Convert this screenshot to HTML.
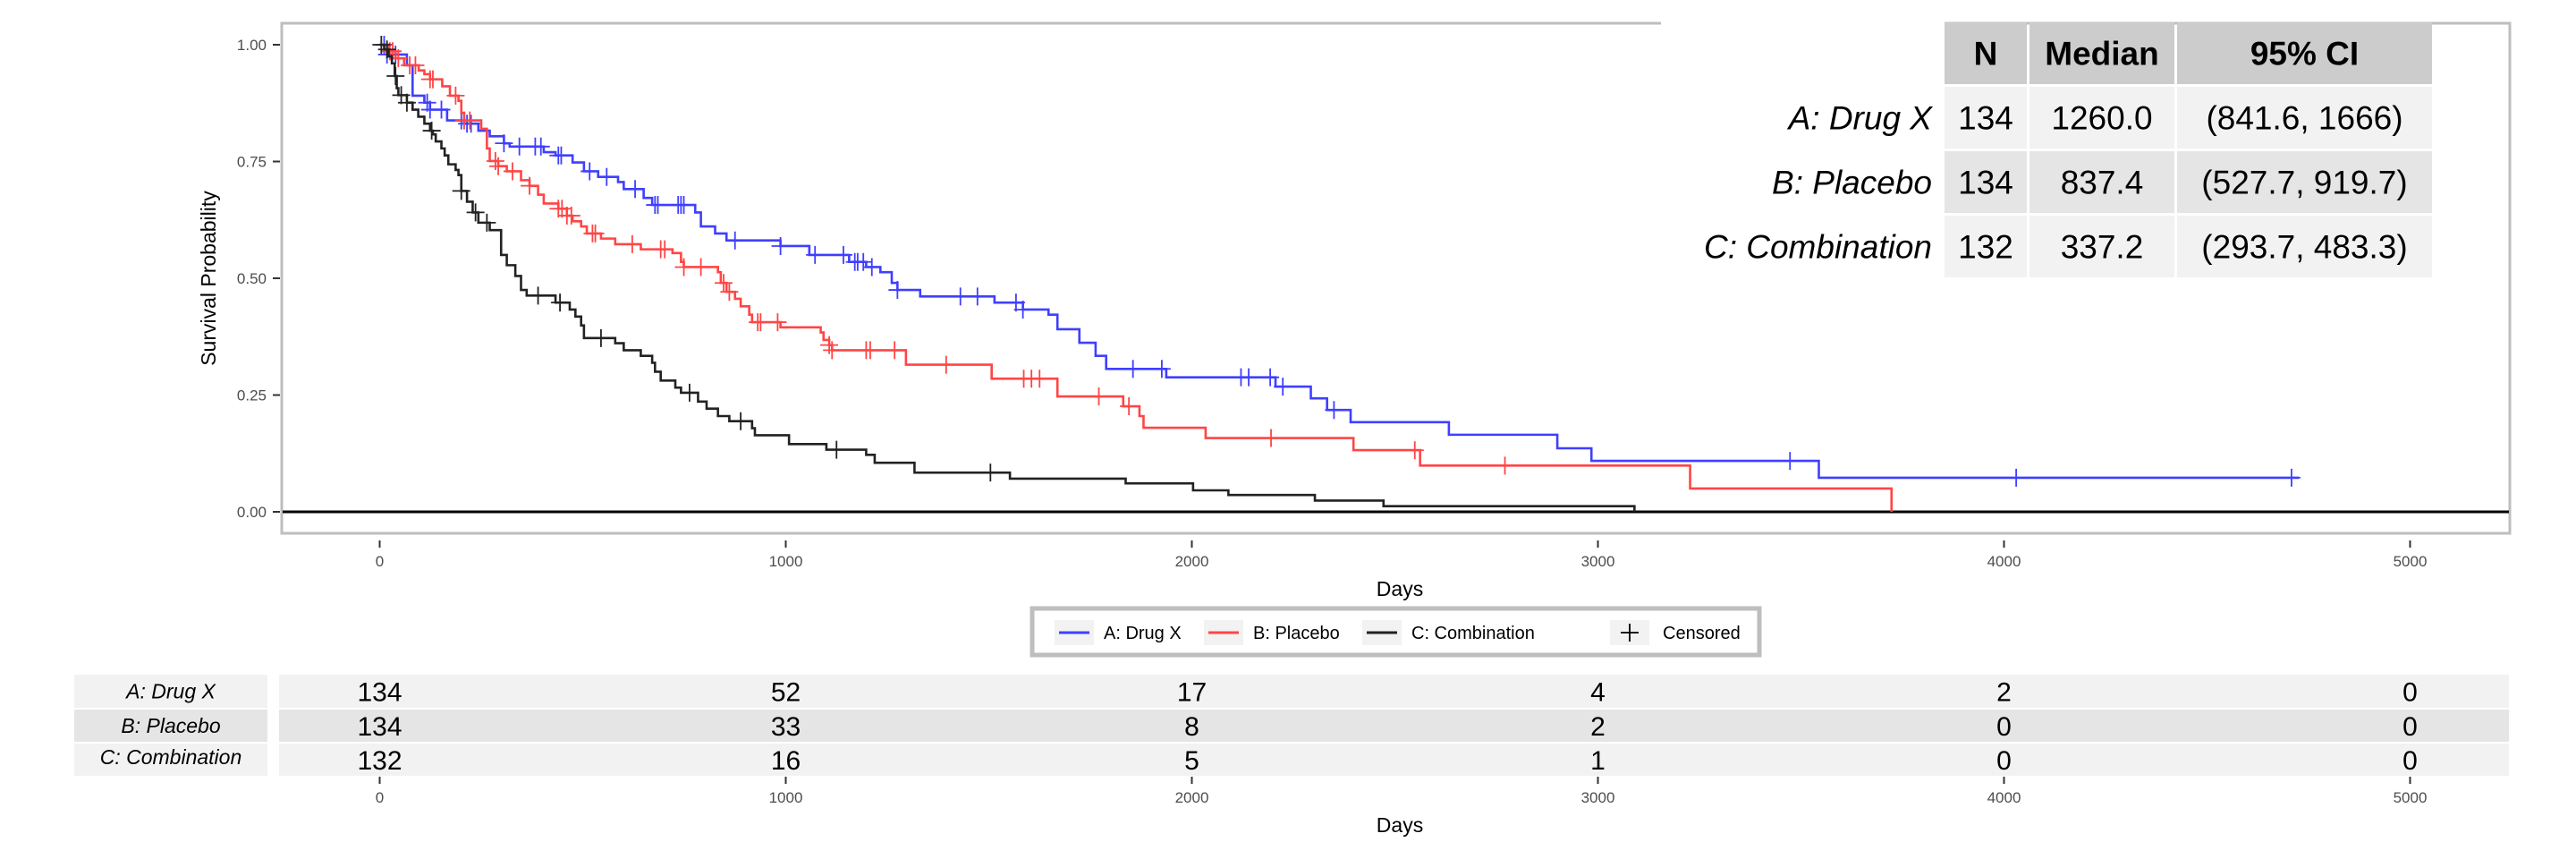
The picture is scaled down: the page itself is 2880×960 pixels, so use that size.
<!DOCTYPE html>
<html><head><meta charset="utf-8"><style>
html,body{margin:0;padding:0;background:#fff}
svg{display:block;font-family:"Liberation Sans",sans-serif}
</style></head><body>
<svg id="chart" width="2880" height="960" viewBox="0 0 2880 960" xmlns="http://www.w3.org/2000/svg">
<rect x="0" y="0" width="2880" height="960" fill="#fff"/>
<g id="panel">
<rect x="315" y="26" width="2491" height="570" fill="#fff" stroke="#bebebe" stroke-width="3"/>
</g>
<g id="yaxis"></g>
<g id="xaxis"></g>
<g id="curves"></g>
<text x="241" y="311" font-size="23" text-anchor="middle" transform="rotate(-90 241 311)">Survival Probability</text>
<text x="1565" y="666" font-size="23" text-anchor="middle">Days</text>
<g id="legend">
<rect x="1154" y="680" width="813" height="52" fill="#fff" stroke="#bebebe" stroke-width="5"/>
</g>
<g id="stats"></g>
<g id="risk"></g>
<text x="1565" y="930" font-size="23" text-anchor="middle">Days</text>
</svg>
<script>
const NS="http://www.w3.org/2000/svg";
// ---- data ----
const groups=["A: Drug X","B: Placebo","C: Combination"];
const colors=["#3f3fff","#ff4545","#222222"];
const xTicks=[0,1000,2000,3000,4000,5000];
const yTicks=[0,0.25,0.5,0.75,1];
const yTickLabels=["0.00","0.25","0.50","0.75","1.00"];
const timesA=[0,18,67,81,110,124,166,208,243,271,306,320,404,433,475,503,538,587,601,650,671,777,791,826,854,987,1058,1156,1198,1233,1261,1275,1331,1514,1584,1647,1669,1723,1763,1789,1937,2206,2293,2333,2391,2633,2900,2984,3544,4726];
const survA=[1,0.979,0.956,0.891,0.876,0.861,0.838,0.831,0.816,0.804,0.789,0.782,0.770,0.763,0.748,0.729,0.717,0.706,0.691,0.672,0.657,0.641,0.611,0.596,0.581,0.569,0.550,0.535,0.524,0.513,0.490,0.475,0.461,0.448,0.433,0.422,0.391,0.362,0.334,0.306,0.288,0.268,0.243,0.218,0.192,0.165,0.136,0.109,0.073,0.073];
const censA=[11,18,39,117,124,152,201,215,225,306,344,383,397,440,447,517,559,629,678,685,735,742,749,875,987,1072,1142,1170,1177,1191,1212,1275,1430,1472,1567,1584,1855,1926,2121,2140,2193,2224,2350,3473,4030,4708];
const timesB=[0,22,39,60,96,110,124,154,173,194,201,208,250,264,271,292,313,348,369,390,404,440,461,475,496,510,545,580,643,721,742,749,833,840,854,875,889,910,917,987,1086,1093,1107,1114,1296,1507,1669,1831,1871,1881,2034,2398,2562,3227,3723];
const survB=[1,0.986,0.971,0.956,0.945,0.937,0.926,0.911,0.891,0.880,0.854,0.838,0.820,0.778,0.751,0.740,0.729,0.710,0.698,0.679,0.660,0.649,0.634,0.622,0.611,0.596,0.585,0.573,0.562,0.554,0.535,0.524,0.513,0.490,0.471,0.456,0.440,0.422,0.406,0.395,0.384,0.368,0.357,0.346,0.315,0.285,0.247,0.226,0.205,0.180,0.158,0.132,0.099,0.050,0];
const censB=[25,32,46,74,88,124,131,187,208,222,285,292,327,369,440,449,461,472,524,531,622,692,702,749,791,847,861,931,938,980,1107,1114,1198,1208,1268,1395,1586,1605,1625,1771,1845,2195,2549,2771];
const timesC=[0,11,22,30,37,42,46,67,81,95,110,124,131,138,152,160,169,187,194,201,215,229,243,271,299,313,334,348,362,433,468,482,496,503,580,601,643,671,678,692,728,742,784,805,833,861,917,924,1008,1100,1198,1219,1317,1552,1837,2003,2090,2303,2472,3090];
const survC=[1,0.99,0.975,0.960,0.933,0.907,0.892,0.876,0.861,0.846,0.831,0.816,0.808,0.793,0.778,0.763,0.744,0.732,0.721,0.687,0.664,0.641,0.619,0.603,0.550,0.528,0.505,0.475,0.463,0.448,0.433,0.418,0.399,0.372,0.361,0.346,0.334,0.319,0.300,0.281,0.266,0.255,0.236,0.221,0.205,0.194,0.179,0.164,0.145,0.133,0.122,0.105,0.084,0.071,0.061,0.046,0.036,0.024,0.012,0];
const censC=[4,18,39,53,67,128,201,236,264,390,444,545,763,889,1125,1504];
const statN=["134","134","132"];
const statMedian=["1260.0","837.4","337.2"];
const statCI=["(841.6, 1666)","(527.7, 919.7)","(293.7, 483.3)"];
const riskCounts=[[134,52,17,4,2,0],[134,33,8,2,0,0],[132,16,5,1,0,0]];
const riskTimes=[0,1000,2000,3000,4000,5000];
// ---- scales ----
const X=d=>424.5+d*0.454;
const Y=s=>572-s*522;
function mk(tag,attrs,parent){const e=document.createElementNS(NS,tag);for(const k in attrs)e.setAttribute(k,attrs[k]);parent.appendChild(e);return e;}
const yax=document.getElementById('yaxis');
yTicks.forEach((t,i)=>{
  const l=mk('line',{x1:305,x2:313,y1:Y(t),y2:Y(t),stroke:'#333','stroke-width':2},yax);
  
  
  const tx=mk('text',{x:298,y:Y(t)+6,'font-size':17,'text-anchor':'end',fill:'#4d4d4d'},yax);
  tx.textContent=yTickLabels[i];
  
  
});
const xax=document.getElementById('xaxis');
xTicks.forEach(t=>{
  const l=mk('line',{x1:X(t),x2:X(t),y1:604,y2:612,stroke:'#333','stroke-width':2},xax);
  
  
  const tx=mk('text',{x:X(t),y:633,'font-size':17,'text-anchor':'middle',fill:'#4d4d4d'},xax);
  tx.textContent=t;
  
  
});
const cg=document.getElementById('curves');
const zl=mk('line',{x1:316,x2:2805,y1:Y(0),y2:Y(0),stroke:'#000','stroke-width':3},cg);


function survAt(ts,ss,t){let v=ss[0];for(let i=0;i<ts.length;i++){if(ts[i]<=t)v=ss[i];}return v;}
const series=[[timesA,survA,censA],[timesB,survB,censB],[timesC,survC,censC]];
series.forEach((s,gi)=>{
  const [ts,ss,cs]=s;
  let d='M'+X(ts[0])+','+Y(ss[0]);
  for(let i=1;i<ts.length;i++){d+=' H'+X(ts[i])+' V'+Y(ss[i]);}
  const p=mk('path',{d:d,fill:'none',stroke:colors[gi],'stroke-width':2.6},cg);
  
  
  cs.forEach(t=>{
    const x=X(t),y=Y(survAt(ts,ss,t));
    const c=mk('path',{d:`M${x-10},${y} H${x+10} M${x},${y-10} V${y+10}`,stroke:colors[gi],'stroke-width':1.8,fill:'none'},cg);
    
    
  });
});
// legend
const lg=document.getElementById('legend');
const legX=[1179,1346,1523];
groups.forEach((g,i)=>{
  mk('rect',{x:legX[i],y:693,width:44,height:28,fill:'#f2f2f2'},lg);
  const l=mk('line',{x1:legX[i]+5,x2:legX[i]+39,y1:707,y2:707,stroke:colors[i],'stroke-width':3},lg);
  
  
  const t=mk('text',{x:legX[i]+55,y:714,'font-size':20},lg);
  t.textContent=g;
  
  
});
mk('rect',{x:1800,y:693,width:44,height:28,fill:'#f2f2f2'},lg);
const ck=mk('path',{d:'M1812,707 H1832 M1822,697 V717',stroke:'#000','stroke-width':1.8},lg);


const ct=mk('text',{x:1859,y:714,'font-size':20},lg);
ct.textContent='Censored';


// stats table
const st=document.getElementById('stats');
mk('rect',{x:1857,y:18,width:317,height:295,fill:'#fff'},st);
const colX=[2174,2269,2434,2722];
const rowY=[[25,94],[97,166],[169,238],[241,310]];
const bg=['#cccccc','#f2f2f2','#e5e5e5','#f2f2f2'];
const heads=['N','Median','95% CI'];
for(let r=0;r<4;r++){for(let c=0;c<3;c++){
  mk('rect',{x:colX[c],y:rowY[r][0],width:colX[c+1]-colX[c]-3,height:rowY[r][1]-rowY[r][0],fill:bg[r]},st);
  const cx=(colX[c]+colX[c+1]-3)/2, cy=(rowY[r][0]+rowY[r][1])/2+13;
  const t=mk('text',{x:cx,y:cy,'font-size':37,'text-anchor':'middle','font-weight':r==0?'bold':'normal'},st);
  t.textContent=r==0?heads[c]:[statN,statMedian,statCI][c][r-1];
  
  
}}
groups.forEach((g,i)=>{
  const t=mk('text',{x:2160,y:(rowY[i+1][0]+rowY[i+1][1])/2+13,'font-size':37,'text-anchor':'end','font-style':'italic'},st);
  t.textContent=g;
  
  
});
// risk table
const rk=document.getElementById('risk');
const rY=[[754,791],[793,829],[831,867]];
const rbg=['#f2f2f2','#e5e5e5','#f2f2f2'];
groups.forEach((g,i)=>{
  mk('rect',{x:83,y:rY[i][0],width:216,height:rY[i][1]-rY[i][0],fill:rbg[i]},rk);
  mk('rect',{x:312,y:rY[i][0],width:2493,height:rY[i][1]-rY[i][0],fill:rbg[i]},rk);
  const t=mk('text',{x:191,y:i==2?rY[i][0]+23:(rY[i][0]+rY[i][1])/2+8,'font-size':23,'text-anchor':'middle','font-style':'italic'},rk);
  t.textContent=g;
  
  
  riskCounts[i].forEach((v,j)=>{
    const n=mk('text',{x:X(riskTimes[j]),y:(rY[i][0]+rY[i][1])/2+11,'font-size':30,'text-anchor':'middle'},rk);
    n.textContent=v;
    
    
  });
});
xTicks.forEach(t=>{
  const l=mk('line',{x1:X(t),x2:X(t),y1:868,y2:876,stroke:'#333','stroke-width':2},rk);
  
  
  const tx=mk('text',{x:X(t),y:897,'font-size':17,'text-anchor':'middle',fill:'#4d4d4d'},rk);
  tx.textContent=t;
  
  
});
</script>
</body></html>
